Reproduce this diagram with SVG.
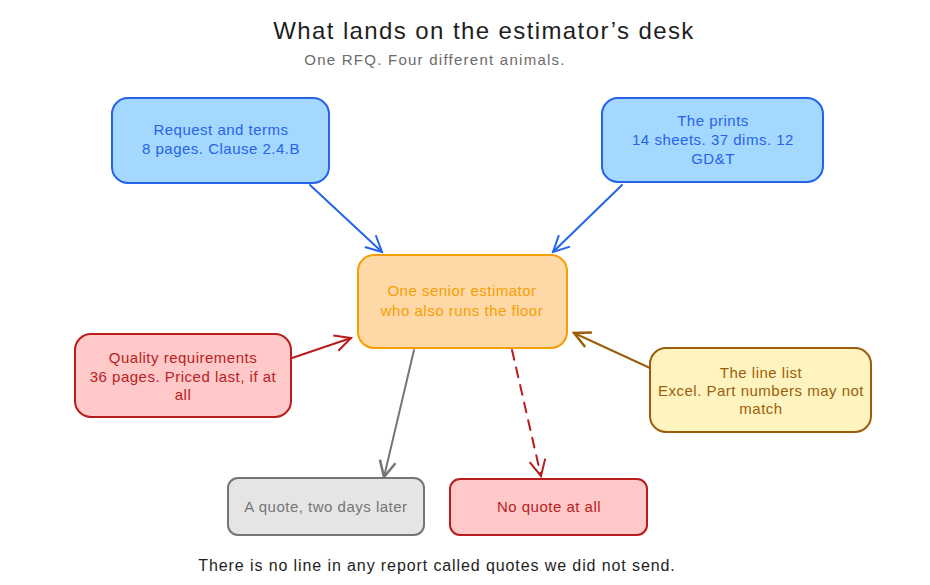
<svg xmlns="http://www.w3.org/2000/svg" width="930" height="585" viewBox="0 0 930 585">
<style>
text{font-family:"Liberation Sans","Open Sans",sans-serif;text-anchor:middle}
.t{font-size:15px;letter-spacing:0.5px}
.box{stroke-width:2}
.blue rect{fill:#a5d8ff;stroke:#2563eb}
.blue text{fill:#2563eb}
.orange rect{fill:#ffd8a8;stroke:#f59f00}
.orange text{fill:#f59f00}
.red rect{fill:#ffc9c9;stroke:#b91c1c}
.red text{fill:#b91c1c}
.yellow rect{fill:#fff3bf;stroke:#9c5d0a}
.yellow text{fill:#9c5d0a}
.gray rect{fill:#e5e5e5;stroke:#757575}
.gray text{fill:#757575}
.c{fill:none;stroke-width:2;stroke-linecap:round}
</style>
<defs>
<marker id="ab" viewBox="0 0 20 20" refX="18" refY="10" markerWidth="20" markerHeight="20" markerUnits="userSpaceOnUse" orient="auto"><path d="M2,2 L18,10 L2,18" fill="none" stroke="#2563eb" stroke-width="2"/></marker>
<marker id="ar" viewBox="0 0 20 20" refX="18" refY="10" markerWidth="20" markerHeight="20" markerUnits="userSpaceOnUse" orient="auto"><path d="M2,2 L18,10 L2,18" fill="none" stroke="#b91c1c" stroke-width="2"/></marker>
<marker id="ay" viewBox="0 0 20 20" refX="18" refY="10" markerWidth="20" markerHeight="20" markerUnits="userSpaceOnUse" orient="auto"><path d="M2,2 L18,10 L2,18" fill="none" stroke="#9c5d0a" stroke-width="2.5"/></marker>
<marker id="ag" viewBox="0 0 20 20" refX="18" refY="10" markerWidth="20" markerHeight="20" markerUnits="userSpaceOnUse" orient="auto"><path d="M2,2 L18,10 L2,18" fill="none" stroke="#757575" stroke-width="2.5"/></marker>
</defs>
<rect width="930" height="585" fill="#ffffff"/>
<text x="484" y="39" font-size="24" letter-spacing="1.4" fill="#1e1e1e">What lands on the estimator’s desk</text>
<text x="435" y="65" font-size="15" letter-spacing="1.25" fill="#6b6b6b">One RFQ. Four different animals.</text>

<g id="connectors">
<line class="c" x1="310" y1="185" x2="382" y2="252" stroke="#2563eb" marker-end="url(#ab)"/>
<line class="c" x1="622" y1="185" x2="553" y2="252" stroke="#2563eb" marker-end="url(#ab)"/>
<line class="c" x1="292" y1="358" x2="351" y2="338" stroke="#b91c1c" marker-end="url(#ar)"/>
<line class="c" x1="650" y1="368" x2="574" y2="333" stroke="#9c5d0a" stroke-width="2.5" marker-end="url(#ay)"/>
<line class="c" x1="414" y1="350" x2="384" y2="477" stroke="#757575" stroke-width="2.5" marker-end="url(#ag)"/>
<line class="c" x1="512" y1="350" x2="541" y2="476" stroke="#b91c1c" stroke-width="2.5" stroke-dasharray="10 8" marker-end="url(#ar)"/>
</g>

<g id="request" class="blue"><rect class="box" x="112" y="98" width="217" height="85" rx="16"/>
<text class="t" x="221" y="135">Request and terms</text><text class="t" x="221" y="154">8 pages. Clause 2.4.B</text></g>
<g id="prints" class="blue"><rect class="box" x="602" y="98" width="221" height="84" rx="16"/>
<text class="t" x="713" y="126">The prints</text><text class="t" x="713" y="145">14 sheets. 37 dims. 12</text><text class="t" x="713" y="164">GD&amp;T</text></g>
<g id="estimator" class="orange"><rect class="box" x="358" y="255" width="209" height="93" rx="16"/>
<text class="t" x="462" y="296">One senior estimator</text><text class="t" x="462" y="316">who also runs the floor</text></g>
<g id="quality" class="red"><rect class="box" x="75" y="334" width="216" height="83" rx="16"/>
<text class="t" x="183" y="363">Quality requirements</text><text class="t" x="183" y="382">36 pages. Priced last, if at</text><text class="t" x="183" y="400">all</text></g>
<g id="linelist" class="yellow"><rect class="box" x="650" y="348" width="221" height="84" rx="16"/>
<text class="t" x="761" y="378">The line list</text><text class="t" x="761" y="396">Excel. Part numbers may not</text><text class="t" x="761" y="414">match</text></g>
<g id="quote" class="gray"><rect class="box" x="228" y="478" width="196" height="57" rx="10"/>
<text class="t" x="326" y="512">A quote, two days later</text></g>
<g id="noquote" class="red"><rect class="box" x="450" y="479" width="197" height="56" rx="10"/>
<text class="t" x="549" y="512">No quote at all</text></g>

<text x="437" y="571" font-size="16" letter-spacing="0.9" fill="#1e1e1e">There is no line in any report called quotes we did not send.</text>
</svg>
